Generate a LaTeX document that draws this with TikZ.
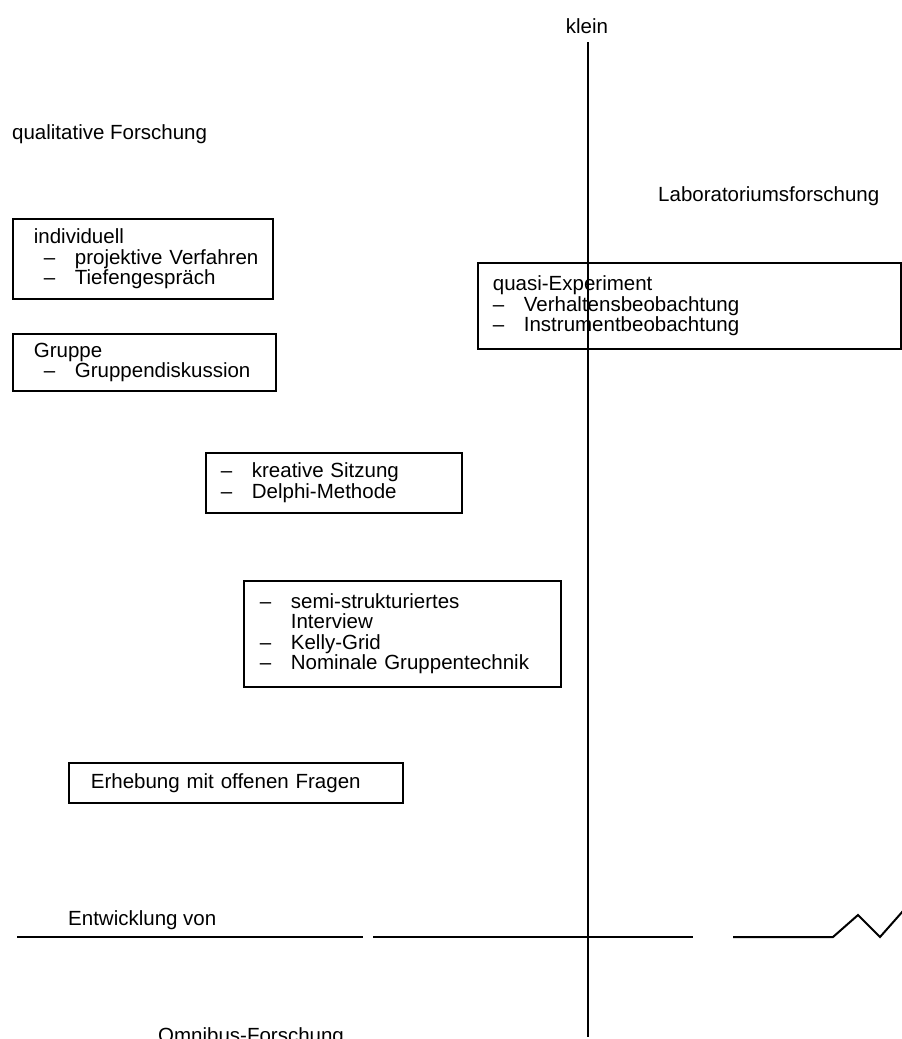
\documentclass[tikz,border=0pt]{standalone}
\usepackage{fontspec}
\setmainfont{Liberation Sans}
\newcommand\dashit[2]{\hspace*{#1}\makebox[31pt][l]{--}#2}
\begin{document}
\begin{tikzpicture}[x=1pt,y=-1pt,
  every node/.style={font=\fontsize{20.5}{20.5}\selectfont, inner sep=0pt},
  lbl/.style={anchor=base west},
  box/.style={draw, line width=1.8pt, anchor=north west, align=left, inner xsep=0pt},
  axis/.style={line width=2.8pt},
  haxis/.style={line width=2pt}]
\useasboundingbox (0,0) rectangle (902,1039);
% axes coordinates
\coordinate (vtop) at (588,42);
\coordinate (vbot) at (588,1037);
\coordinate (h1a) at (17,937);
\coordinate (h1b) at (363,937);
\coordinate (h2a) at (373,937);
\coordinate (h2b) at (693,937);
\coordinate (h3a) at (733,937);
\coordinate (h3b) at (833,937);
\coordinate (z1) at (858,915);
\coordinate (z2) at (880,937);
\coordinate (z3) at (903,911);
\draw[axis] (vtop) -- (vbot);
\draw[haxis] (h1a) -- (h1b);
\draw[haxis] (h2a) -- (h2b);
\draw[haxis, line join=miter] (h3a) -- (h3b) -- (z1) -- (z2) -- (z3);
% labels
\node[anchor=base] (klein) at (587,33) {klein};
\node[lbl] (qual) at (12,139) {qualitative Forschung};
\node[lbl] (labor) at (658,201) {Laboratoriumsforschung};
\node[lbl] (entw) at (68,925) {Entwicklung von};
\node[lbl] (omni) at (158,1042) {Omnibus-Forschung};
% boxes
\node[box, minimum height=80, text width=260pt] (indiv) at (12,218)
  {\hspace*{21pt}individuell\\ \dashit{31pt}{projektive Verfahren}\\ \dashit{31pt}{Tiefengespräch}};
\node[box, minimum height=57, text width=263pt] (grup) at (12,333)
  {\hspace*{21pt}Gruppe\\ \dashit{31pt}{Gruppendiskussion}};
\node[box, minimum height=86, text width=423pt] (quasi) at (477,262)
  {\hspace*{15pt}quasi-Experiment\\ \dashit{15pt}{Verhaltensbeobachtung}\\ \dashit{15pt}{Instrumentbeobachtung}};
\node[box, minimum height=60, text width=256pt] (krea) at (205,452)
  {\dashit{15pt}{kreative Sitzung}\\ \dashit{15pt}{Delphi-Methode}};
\node[box, minimum height=106, text width=317pt] (semi) at (243,580)
  {\dashit{16pt}{semi-strukturiertes}\\ \hspace*{47pt}Interview\\ \dashit{16pt}{Kelly-Grid}\\ \dashit{16pt}{Nominale Gruppentechnik}};
\node[box, minimum height=40, text width=334pt] (erheb) at (68,762)
  {\hspace*{22pt}Erhebung mit offenen Fragen};
\end{tikzpicture}
\end{document}
